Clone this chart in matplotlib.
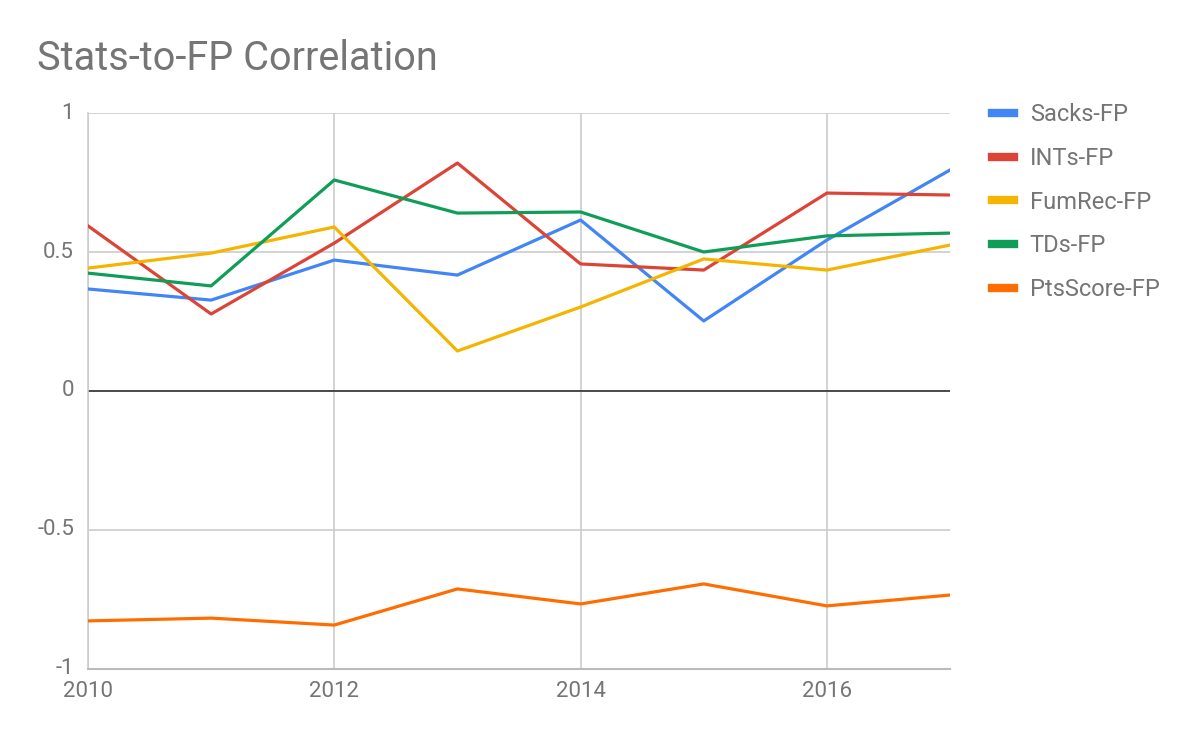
import matplotlib
matplotlib.use("Agg")
import matplotlib.pyplot as plt

years = [2010, 2011, 2012, 2013, 2014, 2015, 2016, 2017]

sacks = [0.367, 0.327, 0.471, 0.417, 0.615, 0.252, 0.543, 0.795]
ints = [0.594, 0.277, 0.532, 0.820, 0.457, 0.435, 0.712, 0.705]
fumrec = [0.442, 0.496, 0.590, 0.144, 0.302, 0.475, 0.435, 0.525]
tds = [0.424, 0.378, 0.759, 0.640, 0.644, 0.500, 0.558, 0.568]
pts_score = [-0.827, -0.817, -0.842, -0.712, -0.766, -0.694, -0.773, -0.734]

series = [
    ("Sacks-FP", sacks, "#4285F4"),
    ("INTs-FP", ints, "#DB4437"),
    ("FumRec-FP", fumrec, "#F4B400"),
    ("TDs-FP", tds, "#0F9D58"),
    ("PtsScore-FP", pts_score, "#FF6D00"),
]

plt.rcParams['font.family'] = ['Roboto', 'DejaVu Sans']
text_color = "#757575"

fig = plt.figure(figsize=(12, 7.42), dpi=100)
ax = fig.add_axes([0.0733, 0.0984, 0.7184, 0.7493])

for name, vals, color in series:
    ax.plot(years, vals, color=color, lw=2.3, label=name, zorder=3)

ax.set_xlim(2010, 2017)
ax.set_ylim(-1, 1)
ax.set_xticks([2010, 2012, 2014, 2016])
ax.set_yticks([-1, -0.5, 0, 0.5, 1])
ax.set_yticklabels(["-1", "-0.5", "0", "0.5", "1"])

ax.grid(True, color="#cccccc", lw=1.2, zorder=0)
ax.axhline(0, color="#333333", lw=1.2, zorder=2)
for side in ["top", "right"]:
    ax.spines[side].set_visible(False)
ax.spines["left"].set_color("#cccccc")
ax.spines["bottom"].set_color("#bbbbbb")
ax.spines["left"].set_linewidth(1.2)
ax.spines["bottom"].set_linewidth(1.5)

ax.tick_params(length=0, labelsize=16, colors=text_color)
ax.tick_params(axis="y", pad=10)
ax.tick_params(axis="x", pad=9)
for lab in ax.get_yticklabels():
    lab.set_verticalalignment("center")

fig.text(0.031, 0.906, "Stats-to-FP Correlation", fontsize=28.5, color=text_color,
         ha="left", va="baseline")

leg = ax.legend(loc="upper left", bbox_to_anchor=(1.024, 1.056), frameon=False,
                fontsize=17, handlelength=0.95, handletextpad=0.65, labelspacing=0.88)
for h in leg.get_lines():
    h.set_linewidth(6)
for t in leg.get_texts():
    t.set_color(text_color)

fig.savefig("out.png", dpi=100)
